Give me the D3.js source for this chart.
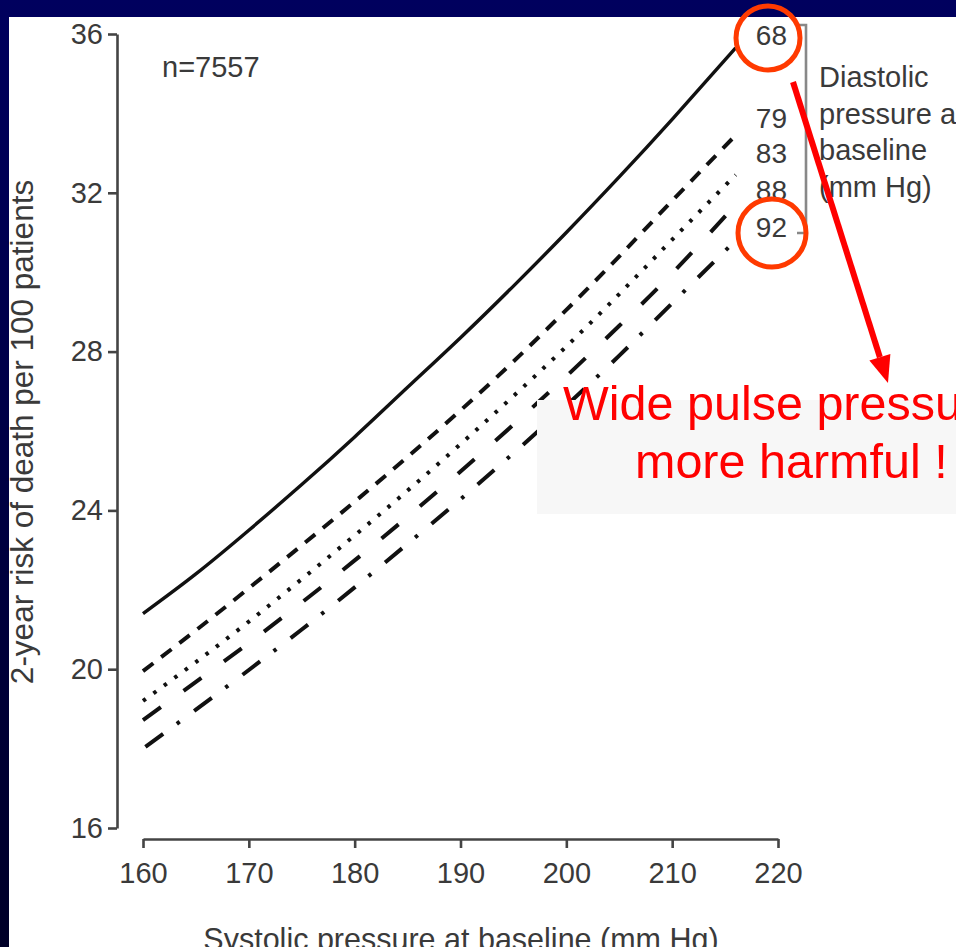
<!DOCTYPE html>
<html>
<head>
<meta charset="utf-8">
<script src="https://cdn.jsdelivr.net/npm/d3@7/dist/d3.min.js"></script>
<style>
  html, body { margin: 0; padding: 0; background: #000058; }
  svg { display: block; }
  .tick text { font-family: "Liberation Sans", Arial, sans-serif; font-size: 29px; fill: #3a3a3a; }
</style>
</head>
<body>
<div id="chart"></div>
<script>
// systolic pressure (x) and risk curves per baseline diastolic pressure
const sbp = [160, 165, 170, 175, 180, 185, 190, 195, 200, 205, 210, 216];
const dbp68 = [21.4, 22.4, 23.5, 24.65, 25.85, 27.1, 28.35, 29.65, 31.0, 32.4, 33.85, 35.65];
const dbp79 = [19.95, 20.98, 22.04, 23.12, 24.22, 25.35, 26.52, 27.75, 29.05, 30.4, 31.8, 33.45];
const dbp83 = [19.2, 20.18, 21.2, 22.27, 23.37, 24.5, 25.67, 26.88, 28.13, 29.45, 30.82, 32.45];
const dbp88 = [18.72, 19.68, 20.66, 21.68, 22.74, 23.84, 24.98, 26.16, 27.38, 28.65, 29.97, 31.7];
const dbp92 = [18.0, 18.98, 19.98, 21.0, 22.06, 23.16, 24.28, 25.44, 26.64, 27.9, 29.22, 30.8];
const diastolicLabels = ["68", "79", "83", "88", "92"];
const xTicks = [160, 170, 180, 190, 200, 210, 220];
const yTicks = [16, 20, 24, 28, 32, 36];

const W = 956, H = 947;
const font = '"Liberation Sans", Arial, sans-serif';

const svg = d3.select("#chart").append("svg")
    .attr("width", W).attr("height", H);

// slide background (navy strips) + white picture
const defs = svg.append("defs");
const grad = defs.append("linearGradient").attr("id", "bg")
    .attr("x1", 0).attr("y1", 0).attr("x2", 0).attr("y2", 1);
grad.append("stop").attr("offset", "0%").attr("stop-color", "#00005e");
grad.append("stop").attr("offset", "100%").attr("stop-color", "#000028");
svg.append("rect").attr("width", W).attr("height", H).attr("fill", "url(#bg)");
svg.append("rect").attr("x", 9).attr("y", 17).attr("width", W - 9).attr("height", H - 17).attr("fill", "#fff");

const x = d3.scaleLinear().domain([160, 220]).range([143, 778]);
const y = d3.scaleLinear().domain([16, 36]).range([828, 34]);

// axes
const yAxis = svg.append("g")
    .attr("transform", "translate(117,0)")
    .call(d3.axisLeft(y).tickValues(yTicks).tickSize(9).tickSizeOuter(0).tickPadding(5));
const xAxis = svg.append("g")
    .attr("transform", "translate(0,839)")
    .call(d3.axisBottom(x).tickValues(xTicks).tickSize(9).tickSizeOuter(0).tickPadding(14));
[xAxis, yAxis].forEach(function(a) {
    a.select(".domain").attr("stroke", "#444").attr("stroke-width", 2.6);
    a.selectAll(".tick line").attr("stroke", "#444").attr("stroke-width", 2.6);
});

// axis titles
svg.append("text")
    .attr("transform", "translate(33,432) rotate(-90)")
    .attr("text-anchor", "middle")
    .style("font-family", font).style("font-size", "31.5px").style("fill", "#3a3a3a")
    .text("2-year risk of death per 100 patients");
svg.append("text")
    .attr("x", 461).attr("y", 950)
    .attr("text-anchor", "middle")
    .style("font-family", font).style("font-size", "30.5px").style("fill", "#3a3a3a")
    .text("Systolic pressure at baseline (mm Hg)");

svg.append("text")
    .attr("x", 162).attr("y", 77)
    .style("font-family", font).style("font-size", "29px").style("fill", "#3a3a3a")
    .text("n=7557");

// curves
const series = [
    {vals: dbp68, dash: null, width: 3.4, offset: 0},
    {vals: dbp79, dash: "13,10", width: 4, offset: 0},
    {vals: dbp83, dash: "3.5,9.5", width: 4, offset: 0},
    {vals: dbp88, dash: "22,28", width: 4, offset: 0},
    {vals: dbp92, dash: "22,17,3.5,18", width: 4, offset: -3}
];
const line = d3.line()
    .x(function(d) { return x(d[0]); })
    .y(function(d) { return y(d[1]); })
    .curve(d3.curveNatural);

svg.append("g").selectAll("path")
    .data(series)
    .join("path")
    .attr("fill", "none")
    .attr("stroke", "#111")
    .attr("stroke-width", function(d) { return d.width; })
    .attr("stroke-dasharray", function(d) { return d.dash; })
    .attr("stroke-dashoffset", function(d) { return d.offset; })
    .attr("d", function(d) { return line(sbp.map(function(s, i) { return [s, d.vals[i]]; })); });

// legend labels + bracket
const labelY = [45, 128, 163, 200, 237];
svg.append("g").selectAll("text")
    .data(diastolicLabels)
    .join("text")
    .attr("x", 787)
    .attr("y", function(d, i) { return labelY[i]; })
    .attr("text-anchor", "end")
    .style("font-family", font).style("font-size", "28px").style("fill", "#3a3a3a")
    .text(function(d) { return d; });

svg.append("path")
    .attr("d", "M799,25H806V233H797")
    .attr("fill", "none").attr("stroke", "#888").attr("stroke-width", 2.6);

const legTitle = ["Diastolic", "pressure at", "baseline", "(mm Hg)"];
svg.append("g").selectAll("text")
    .data(legTitle)
    .join("text")
    .attr("x", 819)
    .attr("y", function(d, i) { return 87 + i * 36.7; })
    .style("font-family", font).style("font-size", "29px").style("fill", "#3a3a3a")
    .text(function(d) { return d; });

// annotation: gray box + red text
svg.append("rect")
    .attr("x", 537).attr("y", 400).attr("width", W - 537).attr("height", 114)
    .attr("fill", "#f7f7f7");
svg.append("text")
    .attr("x", 563).attr("y", 420)
    .style("font-family", font).style("font-size", "48.5px").style("fill", "#ff0000")
    .text("Wide pulse pressure is");
svg.append("text")
    .attr("x", 635).attr("y", 478)
    .style("font-family", font).style("font-size", "48.5px").style("fill", "#ff0000")
    .text("more harmful !");

// red circles
[[768, 38, 32], [772, 233, 34]].forEach(function(c) {
    svg.append("circle")
        .attr("cx", c[0]).attr("cy", c[1]).attr("r", c[2])
        .attr("fill", "none").attr("stroke", "#ff3a00").attr("stroke-width", 5);
});

// red arrow
const a0 = [793, 82], tip = [888, 383];
const dx = tip[0] - a0[0], dy = tip[1] - a0[1];
const len = Math.sqrt(dx * dx + dy * dy);
const ux = dx / len, uy = dy / len;
const hl = 27, hw = 11;
const base = [tip[0] - ux * hl, tip[1] - uy * hl];
svg.append("line")
    .attr("x1", a0[0]).attr("y1", a0[1]).attr("x2", base[0]).attr("y2", base[1])
    .attr("stroke", "#ff0000").attr("stroke-width", 6);
svg.append("polygon")
    .attr("points", [tip, [base[0] - uy * hw, base[1] + ux * hw], [base[0] + uy * hw, base[1] - ux * hw]]
        .map(function(p) { return p.join(","); }).join(" "))
    .attr("fill", "#ff0000");
</script>
</body>
</html>
